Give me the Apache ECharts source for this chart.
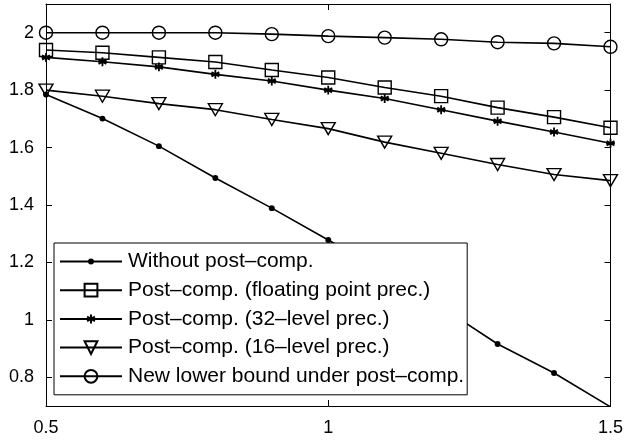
<!DOCTYPE html>
<html>
<head>
<meta charset="utf-8">
<script src="https://cdn.jsdelivr.net/npm/echarts@6/dist/echarts.min.js"></script>
<style>html,body{margin:0;padding:0;background:#fff}#c{width:626px;height:441px}</style>
</head>
<body>
<div id="c"></div>
<script>
var xValues = [0.5, 0.6, 0.7, 0.8, 0.9, 1.0, 1.1, 1.2, 1.3, 1.4, 1.5];
var withoutPost = [1.785, 1.701, 1.605, 1.494, 1.389, 1.278, 1.168, 1.045, 0.916, 0.815, 0.697];
var postFloat = [1.94, 1.930, 1.914, 1.898, 1.870, 1.844, 1.809, 1.779, 1.739, 1.706, 1.669];
var post32 = [1.914, 1.899, 1.881, 1.855, 1.832, 1.800, 1.771, 1.732, 1.692, 1.654, 1.615];
var post16 = [1.800, 1.779, 1.753, 1.732, 1.698, 1.666, 1.619, 1.580, 1.541, 1.506, 1.485];
var lowerBound = [2.000, 2.000, 2.000, 2.000, 1.995, 1.988, 1.983, 1.977, 1.967, 1.963, 1.951];
var seriesNames = ['Without post\u2013comp.', 'Post\u2013comp. (floating point prec.)', 'Post\u2013comp. (32\u2013level prec.)', 'Post\u2013comp. (16\u2013level prec.)', 'New lower bound under post\u2013comp.'];
var xTicks = [0.5, 1, 1.5];
var yTicks = [0.8, 1, 1.2, 1.4, 1.6, 1.8, 2];

function pairs(arr) { return arr.map(function (v, i) { return [xValues[i], v]; }); }

var font = '"Liberation Sans", Arial, Helvetica, sans-serif';
var hollow = { color: 'rgba(0,0,0,0)', borderColor: '#000', borderWidth: 1.4 };
var lineSt = { color: '#000', width: 1.6 };
// small dot inside a padded box so legend and chart markers keep the same size
var dot = 'path://M0,0M20,20M10,5.4A4.6,4.6,0,1,1,10,14.6A4.6,4.6,0,1,1,10,5.4Z';
var star = 'path://M-14.3,-14.3M14.3,14.3M0,-10L0,10M-8.66,-5L8.66,5M-8.66,5L8.66,-5M-10,0L10,0';

var chart = echarts.init(document.getElementById('c'), null, { renderer: 'canvas' });
var axisLine = { show: true, lineStyle: { color: '#000', width: 1 } };
chart.setOption({
  animation: false,
  backgroundColor: '#fff',
  grid: { left: 46, right: 15, top: 4, bottom: 35, containLabel: false },
  xAxis: [
    { type: 'value', min: 0.5, max: 1.5, interval: 0.5, position: 'bottom',
      axisLine: axisLine, splitLine: { show: false },
      axisTick: { inside: true, length: 6, lineStyle: { color: '#000' } },
      axisLabel: { color: '#000', fontSize: 18, fontFamily: font, margin: 13,
        formatter: function (v) { return String(v); } } },
    { type: 'value', min: 0.5, max: 1.5, interval: 0.5, position: 'top',
      axisLine: axisLine, splitLine: { show: false },
      axisTick: { inside: true, length: 6, lineStyle: { color: '#000' } },
      axisLabel: { show: false } }
  ],
  yAxis: [
    { type: 'value', min: 0.7, max: 2.1, position: 'left',
      axisLine: axisLine, splitLine: { show: false },
      axisTick: { inside: true, length: 6, customValues: yTicks, lineStyle: { color: '#000' } },
      axisLabel: { color: '#000', fontSize: 18, fontFamily: font, margin: 12, customValues: yTicks } },
    { type: 'value', min: 0.7, max: 2.1, position: 'right',
      axisLine: axisLine, splitLine: { show: false },
      axisTick: { inside: true, length: 6, customValues: yTicks, lineStyle: { color: '#000' } },
      axisLabel: { show: false } }
  ],
  legend: {
    orient: 'vertical', left: 54, top: 243,
    backgroundColor: '#fff', borderColor: '#000', borderWidth: 1,
    padding: [8, 3, 8, 5], itemGap: 7.7, itemWidth: 62, itemHeight: 16,
    textStyle: { color: '#000', fontSize: 21, fontFamily: font, padding: [0, 0, 0, 1] },
    data: seriesNames
  },
  series: [
    { name: seriesNames[0], type: 'line', data: pairs(withoutPost), symbol: dot, symbolSize: 12.8,
      lineStyle: lineSt, itemStyle: { color: '#000', borderWidth: 0 } },
    { name: seriesNames[1], type: 'line', data: pairs(postFloat), symbol: 'rect', symbolSize: 13,
      lineStyle: lineSt, itemStyle: hollow },
    { name: seriesNames[2], type: 'line', data: pairs(post32), symbol: star, symbolSize: 12.8,
      lineStyle: lineSt, itemStyle: { color: 'rgba(0,0,0,0)', borderColor: '#000', borderWidth: 1.8 } },
    { name: seriesNames[3], type: 'line', data: pairs(post16), symbol: 'triangle', symbolRotate: 180, symbolSize: [14, 12],
      lineStyle: lineSt, itemStyle: hollow },
    { name: seriesNames[4], type: 'line', data: pairs(lowerBound), symbol: 'circle', symbolSize: 13,
      lineStyle: lineSt, itemStyle: hollow }
  ]
});
</script>
</body>
</html>
